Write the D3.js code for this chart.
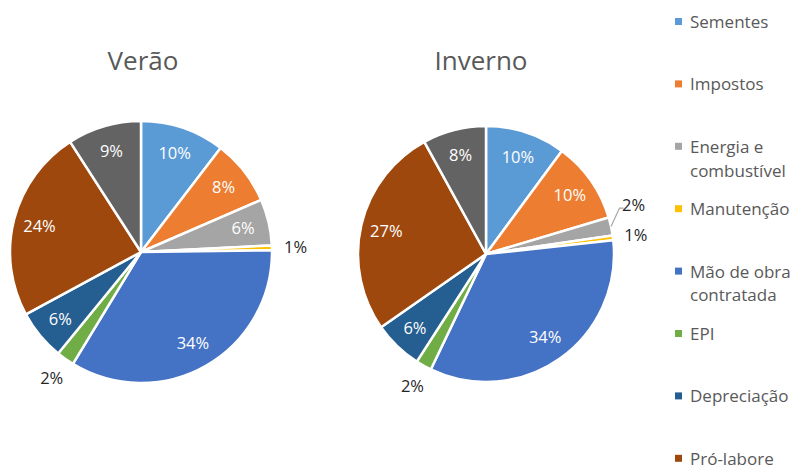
<!DOCTYPE html>
<html>
<head>
<meta charset="utf-8">
<script src="https://cdn.jsdelivr.net/npm/d3@7"></script>
<style>
  body { margin: 0; background: #fff; }
  text { font-family: "Open Sans", "Noto Sans", sans-serif; }
</style>
</head>
<body>
<div id="chart"></div>
<script>
// categories (the last one falls below the visible legend area)
const categories = ["Sementes", "Impostos", "Energia e\ncombustível", "Manutenção",
    "Mão de obra\ncontratada", "EPI", "Depreciação", "Pró-labore", "Outros"]
const colors = ["#5b9bd5", "#ed7d31", "#a5a5a5", "#ffc000", "#4472c4",
    "#70ad47", "#255e91", "#9e480e", "#636363"]

// shares in %
const verao = [10.4, 8.1, 5.7, 0.6, 33.9, 2.2, 6.2, 23.8, 9.1]
const inverno = [10.1, 10.3, 2.3, 0.6, 33.8, 2.0, 6.2, 26.7, 8.0]

const titles = ["Verão", "Inverno"]

const width = 798, height = 470

const pies = [
    {title: titles[0], values: verao, cx: 141, cy: 252, r: 131, tx: 143},
    {title: titles[1], values: inverno, cx: 486, cy: 254, r: 128, tx: 481}
]

const svg = d3.select("#chart")
    .append("svg")
    .attr("width", width)
    .attr("height", height)

const pie = d3.pie().sort(null).value(d => d)

pies.forEach(p => {
    const g = svg.append("g")
        .attr("transform", "translate(" + p.cx + "," + p.cy + ")")

    svg.append("text")
        .attr("x", p.tx)
        .attr("y", 70)
        .attr("text-anchor", "middle")
        .attr("font-size", 26)
        .attr("fill", "#595959")
        .text(p.title)

    const arcs = pie(p.values)
    const total = d3.sum(p.values)
    const arc = d3.arc().innerRadius(0).outerRadius(p.r)
    const labelArc = d3.arc().innerRadius(p.r * 0.8).outerRadius(p.r * 0.8)
    const outArc = d3.arc().innerRadius(p.r * 1.18).outerRadius(p.r * 1.18)
    const edgeArc = d3.arc().innerRadius(p.r).outerRadius(p.r)

    g.selectAll("path.slice")
        .data(arcs)
        .join("path")
        .attr("class", "slice")
        .attr("d", arc)
        .attr("fill", (d, i) => colors[i])
        .attr("stroke", "#fff")
        .attr("stroke-width", 2.5)
        .attr("stroke-linejoin", "round")

    // small slices get their labels outside the pie
    const labels = arcs.map((d, i) => {
        const share = d.value / total * 100
        const outside = share < 3
        const pos = outside ? outArc.centroid(d) : labelArc.centroid(d)
        return {d, i, text: Math.round(share) + "%", outside, x: pos[0], y: pos[1], y0: pos[1]}
    })

    // push outside labels on the right side apart
    const right = labels.filter(l => l.outside && l.x > 0).sort((a, b) => b.y - a.y)
    for (let k = 1; k < right.length; k++) {
        if (right[k - 1].y - right[k].y < 30) right[k].y = right[k - 1].y - 30
    }

    labels.filter(l => l.outside && Math.abs(l.y - l.y0) > 4).forEach(l => {
        const e = edgeArc.centroid(l.d)
        g.append("polyline")
            .attr("points", [[e[0], e[1]], [l.x - 14, l.y + 3], [l.x - 10, l.y + 3]].join(" "))
            .attr("fill", "none")
            .attr("stroke", "#a6a6a6")
            .attr("stroke-width", 1.2)
    })

    g.selectAll("text.lbl")
        .data(labels)
        .join("text")
        .attr("class", "lbl")
        .attr("x", l => l.x)
        .attr("y", l => l.y)
        .attr("dy", "0.35em")
        .attr("text-anchor", "middle")
        .attr("font-size", 16.5)
        .attr("fill", l => l.outside ? "#262626" : "#fff")
        .text(l => l.text)
})

// legend: only the entries that fit in the picture are shown
const legendStep = 62.4
const legendTop = 22
const shown = categories.filter((d, i) => legendTop + i * legendStep < height)

const legend = svg.append("g").attr("transform", "translate(675," + legendTop + ")")

const item = legend.selectAll("g")
    .data(shown)
    .join("g")
    .attr("transform", (d, i) => "translate(0," + (i * legendStep) + ")")

item.append("rect")
    .attr("x", 0)
    .attr("y", -4)
    .attr("width", 7)
    .attr("height", 7)
    .attr("fill", (d, i) => colors[i])

item.append("text")
    .attr("x", 15)
    .attr("y", 0)
    .attr("font-size", 17)
    .attr("fill", "#595959")
    .selectAll("tspan")
    .data(d => d.split("\n"))
    .join("tspan")
    .attr("x", 15)
    .attr("dy", (d, i) => i === 0 ? "0.35em" : "1.4em")
    .text(d => d)
</script>
</body>
</html>
